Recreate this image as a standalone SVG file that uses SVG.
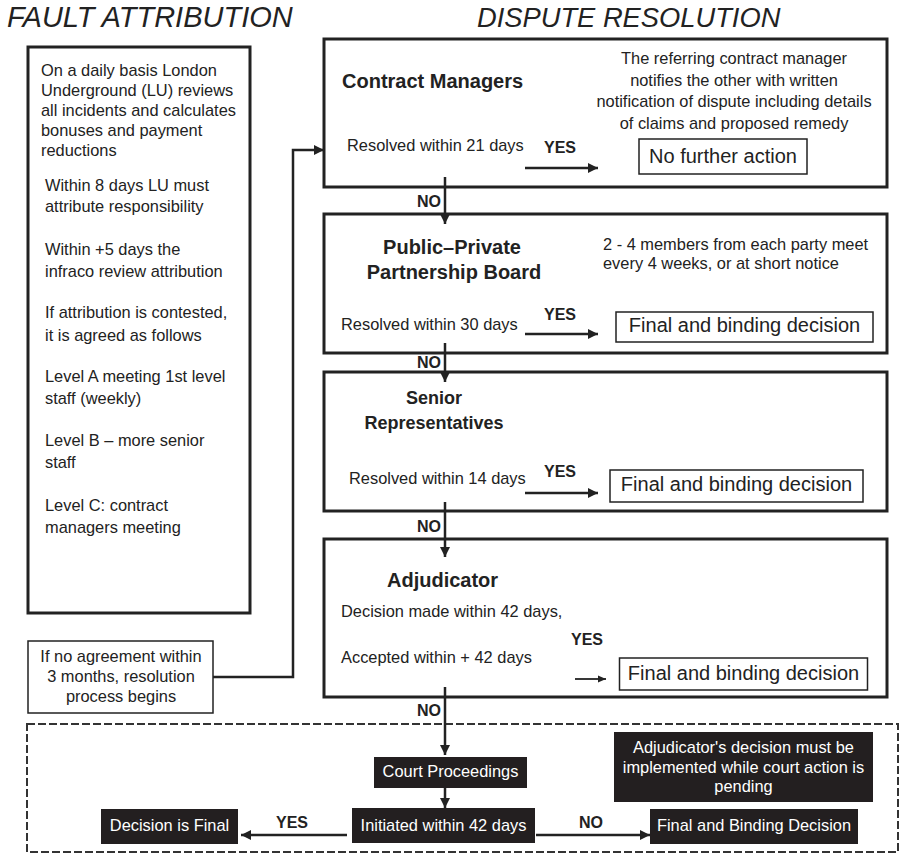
<svg xmlns="http://www.w3.org/2000/svg" width="900" height="853" viewBox="0 0 900 853">
<defs>
<marker id="ah" markerUnits="userSpaceOnUse" markerWidth="10" markerHeight="10" refX="10" refY="5" orient="auto"><path d="M0,0 L10,5 L0,10 z" fill="#222"/></marker>
<marker id="ahs" markerUnits="userSpaceOnUse" markerWidth="8" markerHeight="8" refX="8" refY="4" orient="auto"><path d="M0,0.5 L8,4 L0,7.5 z" fill="#222"/></marker>
<style>
text{font-family:"Liberation Sans",Arial,sans-serif;fill:#222}
.title{font-size:28px;font-style:italic}
.body{font-size:16.4px}
.lbl{font-size:20px;font-weight:bold}
.sub{font-size:18px;font-weight:bold}
.yn{font-size:16px;font-weight:bold}
.res{font-size:20px}
.wt{font-size:16.4px;fill:#fff}
.box{fill:#fff;stroke:#222;stroke-width:3}
.rbox{fill:#fff;stroke:#222;stroke-width:1.5}
.blk{fill:#231f20}
.con{fill:none;stroke:#222;stroke-width:2.5}
.mid{text-anchor:middle}
</style>
</defs>

<text class="title" x="7" y="27" style="font-size:29px">FAULT ATTRIBUTION</text>
<text class="title" x="477" y="27" style="font-size:27.3px">DISPUTE RESOLUTION</text>

<g id="fault-box">
<rect class="box" x="28" y="47" width="222" height="566"/>
<text class="body" x="41" y="76">On a daily basis London</text>
<text class="body" x="41" y="96">Underground (LU) reviews</text>
<text class="body" x="41" y="116">all incidents and calculates</text>
<text class="body" x="41" y="136">bonuses and payment</text>
<text class="body" x="41" y="156">reductions</text>
<text class="body" x="45" y="191">Within 8 days LU must</text>
<text class="body" x="45" y="212">attribute responsibility</text>
<text class="body" x="45" y="255">Within +5 days the</text>
<text class="body" x="45" y="277">infraco review attribution</text>
<text class="body" x="45" y="318">If attribution is contested,</text>
<text class="body" x="45" y="341">it is agreed as follows</text>
<text class="body" x="45" y="382">Level A meeting 1st level</text>
<text class="body" x="45" y="404">staff (weekly)</text>
<text class="body" x="45" y="446">Level B – more senior</text>
<text class="body" x="45" y="468">staff</text>
<text class="body" x="45" y="511">Level C: contract</text>
<text class="body" x="45" y="533">managers meeting</text>
</g>

<g id="no-agreement">
<rect class="rbox" x="28" y="641" width="185" height="72"/>
<text class="body mid" x="121" y="662">If no agreement within</text>
<text class="body mid" x="121" y="682">3 months, resolution</text>
<text class="body mid" x="121" y="702">process begins</text>
</g>

<g id="contract-managers">
<rect class="box" x="324" y="39" width="563" height="148"/>
<text class="lbl" x="342" y="88">Contract Managers</text>
<text class="body" x="347" y="151">Resolved within 21 days</text>
<text class="body mid" x="734" y="64">The referring contract manager</text>
<text class="body mid" x="734" y="86">notifies the other with written</text>
<text class="body mid" x="734" y="107">notification of dispute including details</text>
<text class="body mid" x="734" y="129">of claims and proposed remedy</text>
</g>
<g id="no-further-action">
<rect class="rbox" x="639" y="139" width="168" height="35"/>
<text class="res mid" x="723" y="163">No further action</text>
</g>

<g id="ppp-board">
<rect class="box" x="324" y="214" width="563" height="139"/>
<text class="lbl mid" x="452" y="254">Public–Private</text>
<text class="lbl mid" x="454" y="279">Partnership Board</text>
<text class="body" x="603" y="250">2 - 4 members from each party meet</text>
<text class="body" x="603" y="269">every 4 weeks, or at short notice</text>
<text class="body" x="341" y="330">Resolved within 30 days</text>
</g>
<g id="ppp-final">
<rect class="rbox" x="616" y="312" width="257" height="30"/>
<text class="res mid" x="744.5" y="332">Final and binding decision</text>
</g>

<g id="senior-reps">
<rect class="box" x="324" y="372" width="563" height="139"/>
<text class="sub mid" x="434" y="404">Senior</text>
<text class="sub mid" x="434" y="429">Representatives</text>
<text class="body" x="349" y="484">Resolved within 14 days</text>
</g>
<g id="sr-final">
<rect class="rbox" x="610" y="470" width="253" height="32"/>
<text class="res mid" x="736.5" y="491">Final and binding decision</text>
</g>

<g id="adjudicator">
<rect class="box" x="324" y="539" width="563" height="158"/>
<text class="lbl" x="387" y="587">Adjudicator</text>
<text class="body" x="341" y="617">Decision made within 42 days,</text>
<text class="body" x="341" y="663">Accepted within + 42 days</text>
</g>
<g id="adj-final">
<rect class="rbox" x="619.5" y="658" width="248" height="32"/>
<text class="res mid" x="743.5" y="680">Final and binding decision</text>
</g>

<g id="court-stage">
<rect x="27" y="724" width="871" height="128" fill="none" stroke="#333" stroke-width="2" stroke-dasharray="8,3"/>
</g>
<g id="court-proceedings">
<rect class="blk" x="374" y="757" width="153" height="31"/>
<text class="wt mid" x="450.5" y="777">Court Proceedings</text>
</g>
<g id="initiated">
<rect class="blk" x="352" y="808" width="183" height="35"/>
<text class="wt mid" x="443.5" y="831">Initiated within 42 days</text>
</g>
<g id="decision-final">
<rect class="blk" x="101" y="809" width="137" height="35"/>
<text class="wt mid" x="169.5" y="831">Decision is Final</text>
</g>
<g id="court-final">
<rect class="blk" x="650" y="809" width="208" height="35"/>
<text class="wt mid" x="754" y="831">Final and Binding Decision</text>
</g>
<g id="adj-note">
<rect class="blk" x="614" y="732" width="259" height="70"/>
<text class="wt mid" x="743.5" y="753">Adjudicator's decision must be</text>
<text class="wt mid" x="743.5" y="773">implemented while court action is</text>
<text class="wt mid" x="743.5" y="792">pending</text>
</g>

<g id="connectors">
<polyline class="con" points="213,677 293,677 293,150 324,150" marker-end="url(#ah)"/>
<line class="con" x1="445" y1="177" x2="445" y2="224" marker-end="url(#ah)"/>
<line class="con" x1="445" y1="343" x2="445" y2="382" marker-end="url(#ah)"/>
<line class="con" x1="445" y1="502" x2="445" y2="557" marker-end="url(#ah)"/>
<line class="con" x1="445" y1="687" x2="445" y2="755" marker-end="url(#ah)"/>
<line class="con" x1="445" y1="788" x2="445" y2="808" marker-end="url(#ah)"/>
<line class="con" x1="525" y1="168" x2="598" y2="168" marker-end="url(#ah)"/>
<line class="con" x1="525" y1="334" x2="598" y2="334" marker-end="url(#ah)"/>
<line class="con" x1="525" y1="493" x2="598" y2="493" marker-end="url(#ah)"/>
<line class="con" x1="575" y1="679" x2="606" y2="679" style="stroke-width:1.8" marker-end="url(#ahs)"/>
<line class="con" x1="347" y1="835" x2="241" y2="835" marker-end="url(#ah)"/>
<line class="con" x1="536" y1="835" x2="650" y2="835" marker-end="url(#ah)"/>
<text class="yn" x="544" y="153">YES</text>
<text class="yn" x="544" y="320">YES</text>
<text class="yn" x="544" y="477">YES</text>
<text class="yn" x="571" y="645">YES</text>
<text class="yn" x="417" y="207">NO</text>
<text class="yn" x="417" y="368">NO</text>
<text class="yn" x="417" y="532">NO</text>
<text class="yn" x="417" y="716">NO</text>
<text class="yn" x="276" y="828">YES</text>
<text class="yn" x="579" y="828">NO</text>
</g>
</svg>
